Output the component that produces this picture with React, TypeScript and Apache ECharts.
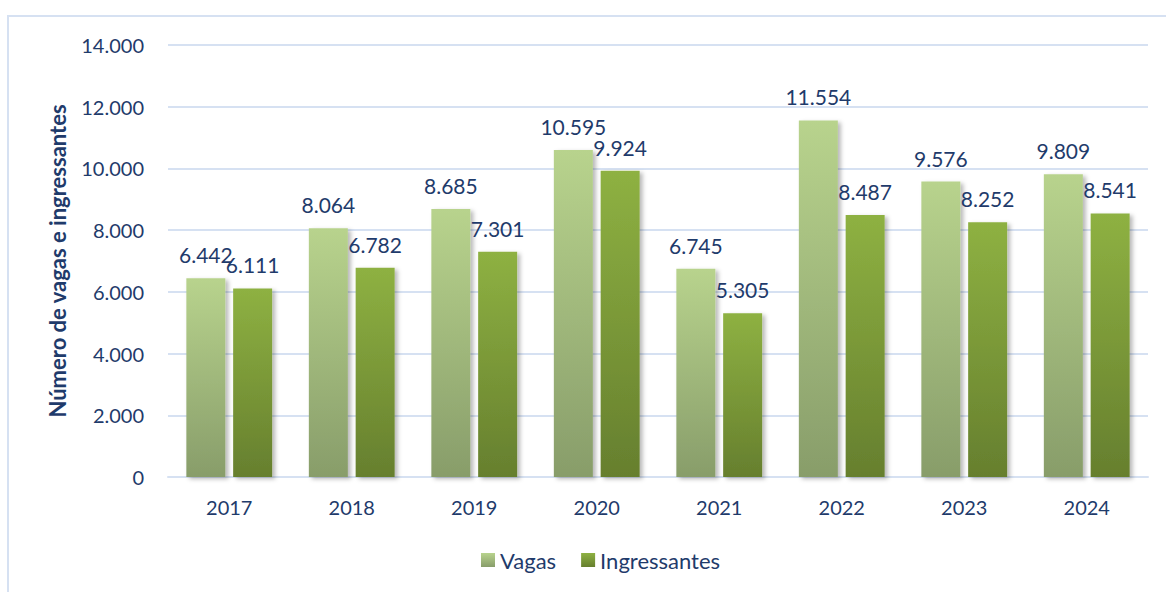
import React, { useEffect, useRef } from "react";
import * as echarts from "echarts";

const years = ["2017", "2018", "2019", "2020", "2021", "2022", "2023", "2024"];
const vagas = [6442, 8064, 8685, 10595, 6745, 11554, 9576, 9809];
const ingressantes = [6111, 6782, 7301, 9924, 5305, 8487, 8252, 8541];
const yTicks = { min: 0, max: 14000, interval: 2000 };

const TEXT = "#1F3B6B";
const FONT = "Lato, 'Open Sans', sans-serif";

const fmt = (v: number) => {
  const s = Math.round(v).toString();
  return s.replace(/\B(?=(\d{3})+(?!\d))/g, ".");
};

export default function App() {
  const ref = useRef<HTMLDivElement>(null);
  useEffect(() => {
    if (!ref.current) return;
    const chart = echarts.init(ref.current, undefined, { renderer: "svg" });
    const gradV = new echarts.graphic.LinearGradient(0, 0, 0, 1, [
      { offset: 0, color: "#b8d38d" },
      { offset: 1, color: "#889d6a" },
    ]);
    const gradI = new echarts.graphic.LinearGradient(0, 0, 0, 1, [
      { offset: 0, color: "#8eb142" },
      { offset: 1, color: "#667f2e" },
    ]);
    const shadow = {
      shadowColor: "rgba(0,0,0,0.28)",
      shadowBlur: 4,
      shadowOffsetX: 3,
      shadowOffsetY: 2,
    };
    const label = {
      show: true,
      position: "top",
      distance: 13,
      color: TEXT,
      fontSize: 21,
      fontFamily: FONT,
      formatter: (p: any) => fmt(p.value),
    };
    chart.setOption({
      animation: false,
      textStyle: { fontFamily: FONT },
      graphic: [
        {
          type: "rect",
          shape: { x: 8, y: 16, width: 1170, height: 600 },
          style: { fill: "none", stroke: "#d6e1f2", lineWidth: 2 },
          silent: true,
        },
      ],
      grid: { left: 168, right: 18, top: 45, bottom: 115, containLabel: false },
      xAxis: {
        type: "category",
        data: years,
        axisLine: { show: true, lineStyle: { color: "#d6e1f2", width: 2 } },
        axisTick: { show: false },
        axisLabel: { color: TEXT, fontSize: 20, fontFamily: FONT, margin: 20 },
      },
      yAxis: {
        type: "value",
        min: yTicks.min,
        max: yTicks.max,
        interval: yTicks.interval,
        name: "Número de vagas e ingressantes",
        nameLocation: "middle",
        nameGap: 100,
        nameTextStyle: { color: TEXT, fontSize: 22, fontWeight: "bold", fontFamily: FONT },
        axisLine: { show: false },
        axisTick: { show: false },
        splitLine: { lineStyle: { color: "#d6e1f2", width: 2 } },
        axisLabel: {
          color: TEXT,
          fontSize: 20,
          fontFamily: FONT,
          margin: 24,
          formatter: (v: number) => fmt(v),
        },
      },
      legend: {
        bottom: 16,
        left: 476,
        itemWidth: 14,
        itemHeight: 14,
        itemGap: 25,
        icon: "rect",
        textStyle: { color: TEXT, fontSize: 22, fontFamily: FONT },
        data: ["Vagas", "Ingressantes"],
      },
      series: [
        {
          name: "Vagas",
          type: "bar",
          data: vagas,
          barWidth: 39,
          barGap: "20%",
          itemStyle: { color: gradV, ...shadow },
          label,
        },
        {
          name: "Ingressantes",
          type: "bar",
          data: ingressantes,
          barWidth: 39,
          itemStyle: { color: gradI, ...shadow },
          label,
        },
      ],
    });
    return () => chart.dispose();
  }, []);
  return <div ref={ref} style={{ width: 1166, height: 592, position: "absolute", left: 0, top: 0 }} />;
}
